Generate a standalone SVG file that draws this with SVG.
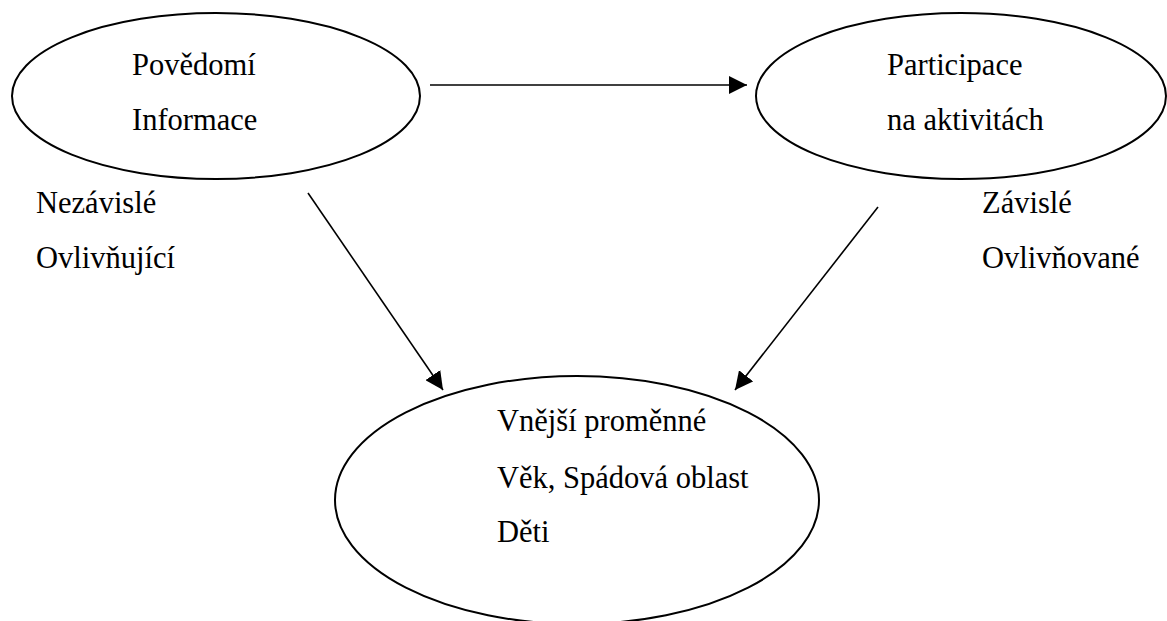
<svg xmlns="http://www.w3.org/2000/svg" width="1167" height="621" viewBox="0 0 1167 621">
<style>
.node ellipse{fill:#fff;stroke:#000;stroke-width:2}
text{font-family:"Liberation Serif","Times New Roman",serif;font-size:30.5px;fill:#000}
.conn line{stroke:#000;stroke-width:1.6}
</style>
<defs>
<marker id="ah" markerUnits="userSpaceOnUse" markerWidth="18" markerHeight="18" viewBox="0 0 16 16" refX="16" refY="8" orient="auto">
<path d="M0,0 L16,8 L0,16 z" fill="#000"/>
</marker>
</defs>
<rect width="1167" height="621" fill="#fff"/>
<g id="n1" class="node">
<ellipse cx="216" cy="96" rx="204" ry="83"/>
<text x="132" y="75">Povědomí</text>
<text x="132" y="130">Informace</text>
</g>
<g id="n2" class="node">
<ellipse cx="961" cy="96" rx="205" ry="83"/>
<text x="887" y="75">Participace</text>
<text x="887" y="130">na aktivitách</text>
</g>
<g id="n3" class="node">
<ellipse cx="577" cy="500" rx="242" ry="124"/>
<text x="497" y="431">Vnější proměnné</text>
<text x="497" y="488">Věk, Spádová oblast</text>
<text x="497" y="542">Děti</text>
</g>
<g id="l1">
<text x="36" y="213">Nezávislé</text>
<text x="36" y="268">Ovlivňující</text>
</g>
<g id="l2">
<text x="982" y="213">Závislé</text>
<text x="982" y="268">Ovlivňované</text>
</g>
<g id="connectors" class="conn">
<line x1="430" y1="85" x2="747" y2="85" marker-end="url(#ah)"/>
<line x1="308" y1="193" x2="443" y2="390" marker-end="url(#ah)"/>
<line x1="878" y1="207" x2="735" y2="390" marker-end="url(#ah)"/>
</g>
</svg>
